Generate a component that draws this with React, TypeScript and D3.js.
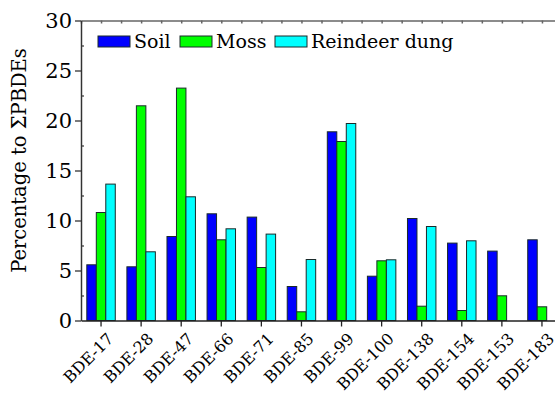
import React, { useEffect, useRef } from 'react';
import * as d3 from 'd3';

const categories = ['BDE-17', 'BDE-28', 'BDE-47', 'BDE-66', 'BDE-71', 'BDE-85', 'BDE-99', 'BDE-100', 'BDE-138', 'BDE-154', 'BDE-153', 'BDE-183'];
const seriesNames = ['Soil', 'Moss', 'Reindeer dung'];
const soil = [5.57, 5.37, 8.4, 10.67, 10.34, 3.4, 18.87, 4.43, 10.2, 7.74, 6.94, 8.07];
const moss = [10.8, 21.47, 23.24, 8.07, 5.3, 0.87, 17.9, 5.97, 1.43, 1.0, 2.47, 1.37];
const reindeer = [13.64, 6.87, 12.37, 9.17, 8.64, 6.1, 19.7, 6.07, 9.4, 7.97, 0, 0];
const yTicks = [0, 5, 10, 15, 20, 25, 30];
const colors = ['#0000ff', '#00ff00', '#00ffff'];

function App() {
  const ref = useRef<SVGSVGElement>(null);

  useEffect(() => {
    const svg = d3.select(ref.current);
    svg.selectAll('*').remove();
    const width = 555;
    const height = 396;
    const font = 'DejaVu Serif';
    const margin = { top: 20.5, right: -7, bottom: 75.5, left: 81 };
    const values = [soil, moss, reindeer];

    const x0 = d3
      .scaleBand()
      .domain(categories)
      .range([margin.left, width - margin.right])
      .paddingInner(0.29)
      .paddingOuter(0.145);
    const x1 = d3
      .scaleBand()
      .domain(seriesNames)
      .range([0, x0.bandwidth()]);
    const y = d3
      .scaleLinear()
      .domain([0, 30])
      .range([height - margin.bottom, margin.top]);

    // bars
    seriesNames.forEach((name, si) => {
      svg
        .append('g')
        .selectAll('rect')
        .data(values[si].map((v, i) => ({ v, c: categories[i] })).filter(d => d.v > 0))
        .join('rect')
        .attr('x', d => x0(d.c)! + x1(name)!)
        .attr('y', d => y(d.v))
        .attr('width', x1.bandwidth())
        .attr('height', d => y(0) - y(d.v))
        .attr('fill', colors[si])
        .attr('stroke', '#1a2a2a')
        .attr('stroke-width', 1);
    });

    // top axis with small inward ticks
    const xl = d3.scaleLinear().domain([0, categories.length]).range([margin.left, width - margin.right]);
    svg
      .append('g')
      .attr('transform', `translate(0,${margin.top})`)
      .call(
        d3
          .axisTop(xl)
          .tickValues(d3.range(0, categories.length + 0.5, 0.5))
          .tickSize(-3)
          .tickSizeOuter(0)
          .tickFormat(() => ''),
      )
      .call(g => g.selectAll('line,path').attr('stroke', '#666').attr('stroke-width', 1.5));

    // bottom axis
    svg
      .append('g')
      .attr('transform', `translate(0,${y(0)})`)
      .call(d3.axisBottom(x0).tickSize(6).tickSizeOuter(0))
      .call(g => {
        g.attr('font-family', font).attr('font-size', 16);
        g.selectAll('line,path').attr('stroke', '#222').attr('stroke-width', 1.3);
        g.selectAll('text')
          .attr('fill', '#000')
          .attr('text-anchor', 'end')
          .attr('dy', '0.35em')
          .attr('transform', 'translate(3,9) rotate(-45)');
      });

    // left axis, minor inward ticks
    svg
      .append('g')
      .attr('transform', `translate(${margin.left},0)`)
      .call(
        d3
          .axisLeft(y)
          .tickValues(d3.range(2.5, 30, 5))
          .tickSize(-3)
          .tickSizeOuter(0)
          .tickFormat(() => ''),
      )
      .call(g => g.selectAll('line,path').attr('stroke', '#333').attr('stroke-width', 1.2));

    svg
      .append('g')
      .attr('transform', `translate(${margin.left},0)`)
      .call(d3.axisLeft(y).tickValues(yTicks).tickSize(6).tickPadding(3).tickSizeOuter(0))
      .call(g => {
        g.attr('font-family', font).attr('font-size', 21);
        g.selectAll('line,path').attr('stroke', '#333').attr('stroke-width', 1.3);
        g.selectAll('text').attr('fill', '#000');
      });

    // y label
    svg
      .append('text')
      .attr('transform', `translate(26,${(margin.top + y(0)) / 2 - 10}) rotate(-90)`)
      .attr('text-anchor', 'middle')
      .attr('font-family', font)
      .attr('font-size', 19.5)
      .text('Percentage to ΣPBDEs');

    // legend
    const legendX = [98, 180, 275];
    seriesNames.forEach((name, i) => {
      const g = svg.append('g').attr('transform', `translate(${legendX[i]},36)`);
      g.append('rect')
        .attr('width', 32)
        .attr('height', 11)
        .attr('fill', colors[i])
        .attr('stroke', '#1a2a2a')
        .attr('stroke-width', 1);
      g.append('text')
        .attr('x', 36)
        .attr('y', 12)
        .attr('font-family', font)
        .attr('font-size', 19)
        .text(name);
    });
  });

  return (
    <svg
      ref={ref}
      width={555}
      height={396}
      style={{ position: 'absolute', left: 0, top: 0, background: '#fff' }}
    />
  );
}

export default App;
